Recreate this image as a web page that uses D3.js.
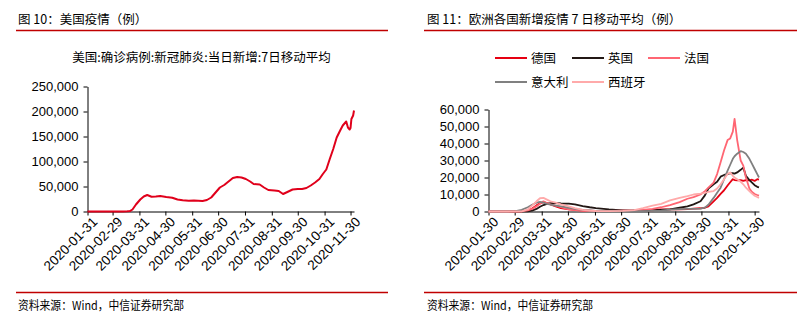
<!DOCTYPE html>
<html>
<head>
<meta charset="utf-8">
<script src="https://cdn.jsdelivr.net/npm/d3@7/dist/d3.min.js"></script>
<style>
  html, body { margin: 0; padding: 0; background: #fff; }
  svg { display: block; }
  text { font-family: "Liberation Sans", Arial, sans-serif; fill: #000; }
  .cjk { font-family: "Noto Sans CJK SC", "Noto Sans", sans-serif; }
</style>
</head>
<body>
<svg id="c" width="805" height="324"></svg>
<script>
// ---------------- DATA ----------------
const titleLeft = "图 10：美国疫情（例）";
const titleRight = "图 11：欧洲各国新增疫情 7 日移动平均（例）";
const subtitleLeft = "美国:确诊病例:新冠肺炎:当日新增:7日移动平均";
const sourceText = "资料来源：Wind，中信证券研究部";

const usTickLabels = ["2020-01-31","2020-02-29","2020-03-31","2020-04-30","2020-05-31","2020-06-30","2020-07-31","2020-08-31","2020-09-30","2020-10-31","2020-11-30"];
const usYTicks = [0, 50000, 100000, 150000, 200000, 250000];

const usDates = ["2020-01-31","2020-03-01","2020-03-12","2020-03-17","2020-03-20","2020-03-23","2020-03-27","2020-04-01","2020-04-05","2020-04-09","2020-04-14","2020-04-19","2020-04-24","2020-05-01","2020-05-08","2020-05-14","2020-05-20","2020-05-27","2020-06-02","2020-06-07","2020-06-12","2020-06-17","2020-06-22","2020-06-27","2020-07-02","2020-07-07","2020-07-12","2020-07-17","2020-07-22","2020-07-27","2020-08-01","2020-08-06","2020-08-10","2020-08-17","2020-08-22","2020-08-27","2020-09-03","2020-09-08","2020-09-13","2020-09-18","2020-09-24","2020-09-30","2020-10-05","2020-10-10","2020-10-15","2020-10-20","2020-10-25","2020-10-29","2020-11-02","2020-11-06","2020-11-10","2020-11-14","2020-11-18","2020-11-21","2020-11-24","2020-11-25","2020-11-27","2020-11-29","2020-11-30","2020-12-01","2020-12-03","2020-12-04"];
const usValues = [0,0,0,300,800,4000,14000,24000,30000,33000,29500,30000,31000,29000,27500,24000,22500,21500,22000,21500,21000,23000,28000,38000,48000,53000,60000,67000,69000,68000,65000,60000,55000,54000,48000,43000,42000,41000,35000,39000,44000,45000,45000,47000,52000,58000,65000,75000,84000,105000,125000,148000,162000,172000,178000,180000,168000,164000,167000,185000,192000,202000];

const euTickLabels = ["2020-01-30","2020-02-29","2020-03-31","2020-04-30","2020-05-31","2020-06-30","2020-07-31","2020-08-31","2020-09-30","2020-10-31","2020-11-30"];
const euYTicks = [0, 10000, 20000, 30000, 40000, 50000, 60000];
const euCountries = ["德国","英国","法国","意大利","西班牙"];

const euDates = ["2020-01-30","2020-02-20","2020-03-01","2020-03-08","2020-03-15","2020-03-20","2020-03-25","2020-03-29","2020-04-02","2020-04-06","2020-04-10","2020-04-16","2020-04-22","2020-05-01","2020-05-08","2020-05-17","2020-05-25","2020-06-01","2020-06-16","2020-07-02","2020-07-15","2020-07-25","2020-08-05","2020-08-15","2020-08-25","2020-09-05","2020-09-14","2020-09-21","2020-09-29","2020-10-04","2020-10-08","2020-10-14","2020-10-18","2020-10-22","2020-10-26","2020-10-30","2020-11-02","2020-11-05","2020-11-07","2020-11-10","2020-11-14","2020-11-17","2020-11-20","2020-11-24","2020-11-27","2020-11-30","2020-12-03","2020-12-05"];
const germany = [0,0,0,60,500,1800,3600,4800,5500,5000,4200,3000,2000,1200,900,600,500,400,350,450,400,550,700,1200,1300,1200,1400,1700,1900,2200,3000,6000,8000,10400,12500,15300,17200,19000,18500,18300,18500,18000,18500,18300,18700,18000,19000,18800];
const uk = [0,0,0,30,150,500,1500,2800,3800,4500,4900,5000,4700,4600,4200,3200,2500,2000,1200,700,600,700,800,1000,1200,2200,3000,4200,6000,9500,13500,16000,17500,20500,21500,22000,22500,22500,22300,23000,24500,25800,21000,18500,17000,15500,14500,14200];
const france = [0,0,20,100,600,1500,3000,4500,6000,5000,4200,3500,2500,1200,800,400,300,250,400,500,600,1000,1500,2500,3800,5500,7500,8500,10000,12000,14000,17000,22000,29000,36000,42000,43000,47000,54500,42000,30000,27000,20000,13500,11500,10300,9700,9400];
const italy = [0,0,200,1000,2500,4000,5200,5600,5200,4500,4000,3500,3000,2200,1500,900,600,400,300,200,200,250,350,500,1100,1400,1500,1600,1700,2300,4000,8000,11000,14000,19000,24000,27500,31000,32500,34000,35500,35000,34000,31000,28000,25000,22000,20000];
const spain = [0,0,0,100,1200,3500,6000,7800,8000,7000,6000,5200,4200,3000,2000,1000,500,300,250,400,800,2000,3500,4500,6500,8000,9000,10000,10500,11000,11500,12000,13500,16000,19000,22000,23000,21000,20000,19000,17500,16000,14000,12000,10500,9300,8500,8000];
const euSeriesValues = [germany, uk, france, italy, spain];
const euColors = ["#E60012", "#231815", "#FF6673", "#808080", "#FFAAAA"];

// ---------------- DRAW ----------------
const parse = d3.timeParse("%Y-%m-%d");
const fmtDate = d3.timeFormat("%Y-%m-%d");
const fmtNum = d3.format(",");
const svg = d3.select("#c");
const RED = "#C00000";

function header(x, y, text, x1, x2) {
  svg.append("text").attr("class", "cjk").attr("x", x).attr("y", y)
    .attr("font-size", 12.5).text(text);
  svg.append("line").attr("x1", x1).attr("x2", x2).attr("y1", 30.5).attr("y2", 30.5)
    .attr("stroke", RED).attr("stroke-width", 1.3);
}
header(18, 24, titleLeft, 16, 388);
header(427, 24, titleRight, 424, 797);

function footer(x, x1, x2) {
  svg.append("line").attr("x1", x1).attr("x2", x2).attr("y1", 292.5).attr("y2", 292.5)
    .attr("stroke", RED).attr("stroke-width", 1.3);
  svg.append("text").attr("class", "cjk").attr("x", x).attr("y", 310)
    .attr("font-size", 12).attr("textLength", 166).attr("lengthAdjust", "spacingAndGlyphs")
    .text(sourceText);
}
footer(18, 16, 388);
footer(427, 424, 797);

function drawAxes(g, x, y, xTicks, yTicks, y0) {
  const xa = d3.axisBottom(x).tickValues(xTicks.map(parse)).tickFormat(fmtDate)
    .tickSizeOuter(0).tickSizeInner(4).tickPadding(3);
  const gx = g.append("g").attr("transform", `translate(0,${y0})`).call(xa);
  gx.selectAll("text").attr("font-size", 13.5)
    .attr("text-anchor", "end")
    .attr("dx", "-0.05em").attr("dy", "0.6em")
    .attr("transform", "rotate(-45)");
  const ya = d3.axisLeft(y).tickValues(yTicks).tickFormat(fmtNum)
    .tickSizeOuter(0).tickSizeInner(4).tickPadding(5);
  const gy = g.append("g").attr("transform", `translate(${x.range()[0]},0)`).call(ya);
  gy.selectAll("text").attr("font-size", 13);
  g.selectAll(".domain, .tick line").attr("stroke", "#000").attr("stroke-width", 1);
}

// -------- Left chart --------
{
  const g = svg.append("g");
  const x = d3.scaleTime().domain([parse("2020-01-31"), parse("2020-12-04")]).range([87.5, 354]);
  const y = d3.scaleLinear().domain([0, 250000]).range([211.5, 86.5]);
  g.append("text").attr("class", "cjk").attr("x", 201.5).attr("y", 62)
    .attr("text-anchor", "middle").attr("font-size", 12.5).text(subtitleLeft);
  drawAxes(g, x, y, usTickLabels, usYTicks, 211.5);
  const line = d3.line().x((d, i) => x(parse(usDates[i]))).y(d => y(d));
  g.append("path").datum(usValues).attr("d", line)
    .attr("fill", "none").attr("stroke", "#E0001B").attr("stroke-width", 2)
    .attr("stroke-linejoin", "round");
}

// -------- Right chart --------
{
  const g = svg.append("g");
  const x = d3.scaleTime().domain([parse("2020-01-30"), parse("2020-12-05")]).range([488.5, 759]);
  const y = d3.scaleLinear().domain([0, 60000]).range([211.5, 109.5]);
  drawAxes(g, x, y, euTickLabels, euYTicks, 211.5);
  const line = d3.line().x((d, i) => x(parse(euDates[i]))).y(d => y(d));
  euSeriesValues.forEach((vals, k) => {
    g.append("path").datum(vals).attr("d", line)
      .attr("fill", "none").attr("stroke", euColors[k]).attr("stroke-width", 1.8)
      .attr("stroke-linejoin", "round");
  });
  const legendPos = [[495, 58], [572, 58], [648, 58], [495, 82], [572, 82]];
  euCountries.forEach((name, k) => {
    const [lx, ly] = legendPos[k];
    g.append("line").attr("x1", lx).attr("x2", lx + 32).attr("y1", ly).attr("y2", ly)
      .attr("stroke", euColors[k]).attr("stroke-width", 2);
    g.append("text").attr("class", "cjk").attr("x", lx + 36).attr("y", ly + 4.5)
      .attr("font-size", 12.5).text(name);
  });
}
</script>
</body>
</html>
